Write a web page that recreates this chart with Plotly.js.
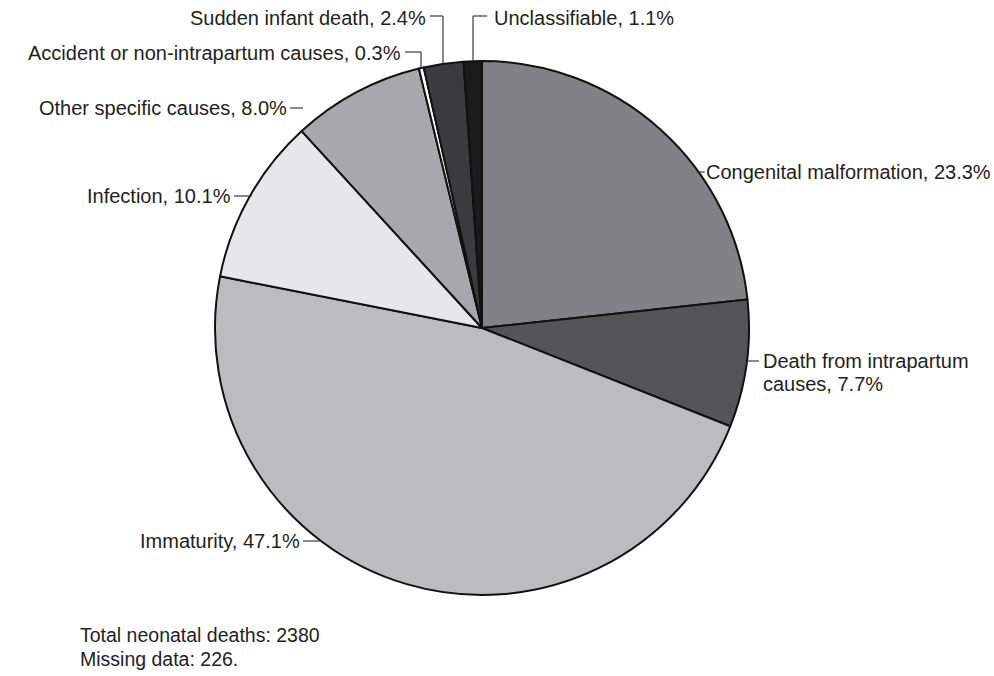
<!DOCTYPE html>
<html>
<head>
<meta charset="utf-8">
<script src="https://cdn.plot.ly/plotly-3.0.1.min.js"></script>
<style>html,body{margin:0;padding:0;background:#fff;}#chart{width:994px;height:676px;}</style>
</head>
<body>
<div id="chart"></div>
<script>
// ---- data ----
var causes = ["Congenital malformation", "Death from intrapartum causes", "Immaturity", "Infection",
  "Other specific causes", "Accident or non-intrapartum causes", "Sudden infant death", "Unclassifiable"];
var percents = [23.3, 7.7, 47.1, 10.1, 8.0, 0.3, 2.4, 1.1];
var sliceColors = ["#818285", "#545557", "#bbbcbe", "#e6e7e8", "#a7a8ab", "#ffffff", "#3b3b3d", "#1c1b1c"];
var totalDeaths = 2380;
var missingData = 226;

// ---- geometry (pixels) ----
var W = 994, H = 676;
var cx = 482, cy = 328, R = 267;
function px(x){ return x / W; }
function py(y){ return 1 - y / H; }
function edgeX(y, side){ var d = Math.sqrt(R*R - (y-cy)*(y-cy)); return side > 0 ? cx + d : cx - d; }
function edgeY(x){ return cy - Math.sqrt(R*R - (x-cx)*(x-cx)); }

function lbl(i){ return causes[i] + ", " + percents[i].toFixed(1) + "%"; }

var font = {family: "Liberation Sans, Arial, sans-serif", size: 20, color: "#231f20"};
var noteFont = {family: "Liberation Sans, Arial, sans-serif", size: 19.5, color: "#231f20"};
var lineStyle = {color: "#3a3a3a", width: 1.2};
var annotations = [], shapes = [];
function addText(text, x, y, anchor, f){
  annotations.push({text: text, x: px(x), y: py(y), xref: "paper", yref: "paper",
    xanchor: anchor, yanchor: "middle", showarrow: false, font: f || font});
}
function addLine(x0, y0, x1, y1){
  shapes.push({type: "line", xref: "paper", yref: "paper", x0: px(x0), y0: py(y0), x1: px(x1), y1: py(y1), line: lineStyle});
}

// Congenital malformation (right, horizontal leader)
(function(){ var y = 172, e = edgeX(y, 1); addLine(e - 2, y, e + 6, y); addText(lbl(0), e + 5, y, "left"); })();
// Death from intrapartum causes (two lines)
(function(){ var y = 361, e = edgeX(y, 1); addLine(e, y, e + 12, y);
  addText("Death from intrapartum", e + 14, y, "left");
  addText("causes, " + percents[1].toFixed(1) + "%", e + 14, y + 23, "left"); })();
// Immaturity
(function(){ var y = 541, e = edgeX(y, -1); addLine(e - 18, y, e, y); addText(lbl(2), e - 19, y, "right"); })();
// Infection
(function(){ var y = 196, e = edgeX(y, -1); addLine(e - 16, y, e + 2, y); addText(lbl(3), e - 17, y, "right"); })();
// Other specific causes
(function(){ var y = 108; addLine(290, y, 303, y); addText(lbl(4), 289, y, "right"); })();
// Accident (elbow)
(function(){ var x = 421, y = 52; addLine(405, y, x, y); addLine(x, y, x, edgeY(x)); addText(lbl(5), 403, y + 1, "right"); })();
// Sudden infant death (elbow)
(function(){ var x = 443, y = 16; addLine(430, y, x, y); addLine(x, y, x, edgeY(x)); addText(lbl(6), 428, y + 2, "right"); })();
// Unclassifiable (elbow)
(function(){ var x = 473, y = 16; addLine(487, y, x, y); addLine(x, y, x, edgeY(x)); addText(lbl(7), 492, y + 2, "left"); })();

// Footnote
addText("Total neonatal deaths: " + totalDeaths, 78, 635, "left", noteFont);
addText("Missing data: " + missingData + ".", 78, 659, "left", noteFont);

var trace = {
  type: "pie",
  labels: causes,
  values: percents,
  sort: false,
  direction: "clockwise",
  rotation: 0,
  textinfo: "none",
  hoverinfo: "label+percent",
  showlegend: false,
  marker: {colors: sliceColors, line: {color: "#111111", width: 2}},
  domain: {x: [px(cx - R), px(cx + R)], y: [py(cy + R), py(cy - R)]}
};

var layout = {
  width: W, height: H,
  margin: {l: 0, r: 0, t: 0, b: 0},
  paper_bgcolor: "#ffffff",
  plot_bgcolor: "#ffffff",
  showlegend: false,
  annotations: annotations,
  shapes: shapes
};

Plotly.newPlot("chart", [trace], layout, {displayModeBar: false, staticPlot: true});
</script>
</body>
</html>
